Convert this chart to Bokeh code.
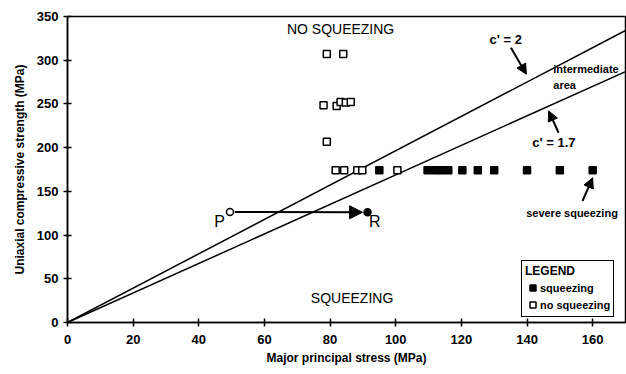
from bokeh.plotting import figure
from bokeh.models import (Range1d, FixedTicker, Label, Arrow, NormalHead, Legend, LegendItem)
from bokeh.embed import file_html
from bokeh.resources import INLINE

# ---- data ----
x_ticks = [0, 20, 40, 60, 80, 100, 120, 140, 160]
y_ticks = [0, 50, 100, 150, 200, 250, 300, 350]

# boundary lines c' = 2 and c' = 1.7 (from origin to right edge)
line_x = [0, 170]
c2_y = [0, 334]
c17_y = [0, 287]

# no squeezing (open squares)
nosq_x = [79, 84, 78, 82, 83.2, 84.8, 86.3, 79, 81.7, 84.3, 88.3, 89.8, 100.5]
nosq_y = [307, 307, 248.5, 247.7, 252.3, 251.5, 252.3, 206.6, 174, 174, 174, 174, 174]

# squeezing (filled squares)
sq_x = [95, 109.7, 112, 114, 116, 120.3, 125, 130, 140, 150, 160]
sq_y = [174, 174, 174, 174, 174, 174, 174, 174, 174, 174, 174]

# path P -> R
p_x, p_y = [49.5], [126.5]
r_x, r_y = [91.4], [126]

FONT = "Liberation Sans"

p = figure(width=626, height=370, output_backend="svg", toolbar_location=None,
           x_range=Range1d(0, 170), y_range=Range1d(0, 350),
           min_border_left=67, min_border_right=1, min_border_top=16, min_border_bottom=48)

p.grid.visible = False
p.outline_line_color = "black"
p.outline_line_width = 1.5
p.background_fill_color = "white"
p.border_fill_color = "white"

for ax in (p.xaxis[0], p.yaxis[0]):
    ax.axis_line_width = 1.5
    ax.axis_line_color = "black"
    ax.major_tick_line_color = "black"
    ax.major_tick_line_width = 1.5
    ax.major_tick_in = 4
    ax.major_tick_out = 4
    ax.minor_tick_line_color = None
    ax.major_label_text_font = FONT
    ax.major_label_text_font_style = "bold"
    ax.major_label_text_font_size = "13px"
    ax.major_label_text_color = "black"
    ax.axis_label_text_font = FONT
    ax.axis_label_text_font_style = "bold"
    ax.axis_label_text_font_size = "12px"
    ax.axis_label_text_color = "black"

p.xaxis.ticker = FixedTicker(ticks=x_ticks)
p.yaxis.ticker = FixedTicker(ticks=y_ticks)
p.xaxis.axis_label = "Major principal stress (MPa)"
p.yaxis.axis_label = "Uniaxial compressive strength (MPa)"
p.xaxis.major_label_standoff = 8
p.xaxis.axis_label_standoff = 4
p.yaxis.major_label_standoff = 5
p.yaxis.axis_label_standoff = 7

p.line(line_x, c2_y, line_color="black", line_width=1.5)
p.line(line_x, c17_y, line_color="black", line_width=1.5)

r_nosq = p.scatter(nosq_x, nosq_y, marker="square", size=7, fill_color="white",
                   line_color="black", line_width=1.5)
r_sq = p.scatter(sq_x, sq_y, marker="square", size=7, fill_color="black",
                 line_color="black", line_width=1.5)

# arrow P -> R
p.add_layout(Arrow(end=NormalHead(size=13, fill_color="black", line_color="black"),
                   x_start=p_x[0] + 1.5, y_start=p_y[0], x_end=r_x[0] - 1.5, y_end=r_y[0],
                   line_width=2, line_color="black"))
p.scatter(p_x, p_y, marker="circle", size=7, fill_color="white", line_color="black", line_width=1.5)
p.scatter(r_x, r_y, marker="circle", size=7, fill_color="black", line_color="black", line_width=1.5)

def lab(x, y, t, size, style="bold", align="center"):
    p.add_layout(Label(x=x, y=y, text=t, text_font=FONT, text_font_size=size,
                       text_font_style=style, text_align=align, text_baseline="middle",
                       text_color="black"))

lab(83.2, 335.5, "NO SQUEEZING", "14px", "normal")
lab(86.7, 27.5, "SQUEEZING", "14px", "normal")
lab(133.5, 324, "c' = 2", "13px")
lab(148.0, 290, "intermediate", "11px", "bold", "left")
lab(148.0, 271.5, "area", "11px", "bold", "left")
lab(148.2, 205.5, "c' = 1.7", "13px")
lab(153.7, 125.5, "severe squeezing", "11px")
lab(46.3, 115.5, "P", "16px", "normal")
lab(93.6, 115, "R", "16px", "normal")

def arr(x0, y0, x1, y1):
    p.add_layout(Arrow(end=NormalHead(size=10, fill_color="black", line_color="black"),
                       x_start=x0, y_start=y0, x_end=x1, y_end=y1,
                       line_width=2, line_color="black"))

arr(135.1, 314.3, 139.8, 284)
arr(149.6, 217, 146.6, 242)
arr(156.9, 139, 160, 165.5)

legend = Legend(items=[LegendItem(label="squeezing", renderers=[r_sq]),
                       LegendItem(label="no squeezing", renderers=[r_nosq])],
                title="LEGEND", location=(454, 5))
legend.title_text_font = FONT
legend.title_text_font_size = "12px"
legend.title_text_font_style = "bold"
legend.title_text_color = "black"
legend.title_standoff = 1
legend.label_text_font = FONT
legend.label_text_font_size = "11px"
legend.label_text_font_style = "bold"
legend.label_text_color = "black"
legend.border_line_color = "black"
legend.border_line_width = 1.5
legend.border_line_alpha = 1
legend.padding = 3
legend.spacing = 0
legend.margin = 0
legend.glyph_width = 15
legend.glyph_height = 17
legend.label_height = 17
legend.label_standoff = 0
legend.label_width = 60
p.add_layout(legend)

open("out.html", "w").write(file_html(p, INLINE))
